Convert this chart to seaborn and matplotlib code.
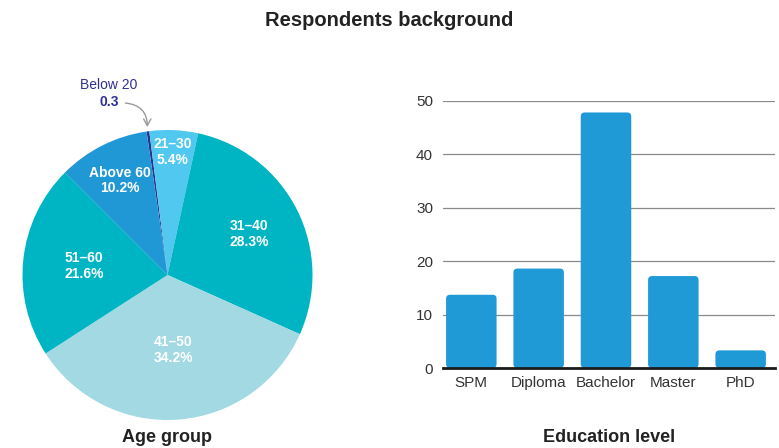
import numpy as np
import pandas as pd
import matplotlib
matplotlib.use("Agg")
import matplotlib.pyplot as plt
import seaborn as sns
from matplotlib.patches import FancyBboxPatch

# ---- data -------------------------------------------------------------
age_groups = ["Below 20", "21–30", "31–40", "41–50", "51–60", "Above 60"]
age_share = [0.3, 5.4, 28.3, 34.2, 21.6, 10.2]

education_levels = ["SPM", "Diploma", "Bachelor", "Master", "PhD"]
education_share = [13.7, 18.6, 47.8, 17.2, 3.3]

y_ticks = [0, 10, 20, 30, 40, 50]

# ---- style ------------------------------------------------------------
sns.set_theme(style="white")
plt.rcParams["font.family"] = ["Liberation Sans", "DejaVu Sans"]

age_colors = ["#2e3192", "#50c8f0", "#00b5c3", "#a2d9e3", "#00b5c3", "#1f98d5"]
bar_color = "#1f9ad6"
text_dark = "#222222"

W, H = 779, 448
fig = plt.figure(figsize=(W / 100, H / 100), dpi=100)

# ---- pie: age group ---------------------------------------------------
cx, cy, r = 167.5, 275, 145
ax1 = fig.add_axes([(cx - r) / W, (H - cy - r) / H, 2 * r / W, 2 * r / H])
wedges, _ = ax1.pie(age_share, colors=age_colors, startangle=98.3,
                    counterclock=False, radius=1,
                    wedgeprops=dict(linewidth=0))
ax1.set_xlim(-1, 1)
ax1.set_ylim(-1, 1)
ax1.set_aspect("equal")
ax1.axis("off")

label_radius = [None, 0.85, 0.63, 0.52, 0.58, 0.73]
for w, name, val, lr in zip(wedges, age_groups, age_share, label_radius):
    if lr is None:
        continue
    ang = np.deg2rad((w.theta1 + w.theta2) / 2)
    ax1.text(lr * np.cos(ang), lr * np.sin(ang), f"{name}\n{val:.1f}%",
             ha="center", va="center", color="white", fontsize=10,
             fontweight="bold", linespacing=1.15)

# callout for the smallest slice
small = wedges[0]
ang = np.deg2rad((small.theta1 + small.theta2) / 2)
tip = (1.03 * np.cos(ang), 1.03 * np.sin(ang))
ax1.annotate("", xy=tip, xytext=(-0.29, 1.186), annotation_clip=False,
             arrowprops=dict(arrowstyle="->,head_length=0.4,head_width=0.22",
                             connectionstyle="arc3,rad=-0.45",
                             color="#9a9a9a", lw=1.0, shrinkA=0, shrinkB=0))
ax1.text(-0.403, 1.31, age_groups[0], ha="center", va="center",
         color="#2e3192", fontsize=10, clip_on=False)
ax1.text(-0.403, 1.19, f"{age_share[0]:.1f}", ha="center", va="center",
         color="#2e3192", fontsize=10, fontweight="bold", clip_on=False)

# ---- bars: education level -------------------------------------------
left_px, right_px = 442.7, 775
top_px, base_px = 100.7, 368
ax2 = fig.add_axes([left_px / W, (H - base_px) / H,
                    (right_px - left_px) / W, (base_px - top_px) / H])
df = pd.DataFrame({"level": education_levels, "share": education_share})
sns.barplot(data=df, x="level", y="share", color=bar_color, saturation=1,
            width=0.75, ax=ax2)
ax2.set_xlim(-0.425, 4.51)
ax2.set_ylim(0, 50)

# round the bar corners
px_per_x = (right_px - left_px) / (4.51 + 0.425)
px_per_y = (base_px - top_px) / 50
aspect = px_per_x / px_per_y
for p in list(ax2.patches):
    x, y = p.get_x(), p.get_y()
    w, h = p.get_width(), p.get_height()
    p.remove()
    ax2.add_patch(FancyBboxPatch((x, y), w, h,
                                 boxstyle=f"round,pad=0,rounding_size={4 / px_per_x}",
                                 mutation_aspect=aspect, facecolor=bar_color,
                                 edgecolor="none", zorder=2))

ax2.set_yticks(y_ticks)
ax2.yaxis.grid(True, color="#8a8a8a", linewidth=0.9)
ax2.set_axisbelow(True)
for s in ["top", "right", "left"]:
    ax2.spines[s].set_visible(False)
ax2.spines["bottom"].set_color("#1a1a1a")
ax2.spines["bottom"].set_linewidth(2.0)
ax2.spines["bottom"].set_zorder(5)
ax2.tick_params(axis="both", length=0, labelsize=11, labelcolor="#333333")
ax2.tick_params(axis="y", pad=7)
ax2.tick_params(axis="x", pad=6)
ax2.set_xlabel("")
ax2.set_ylabel("")

# ---- titles -----------------------------------------------------------
fig.text(389.5 / W, 1 - 20 / H, "Respondents background", ha="center",
         va="center", fontsize=14.5, fontweight="bold", color=text_dark)
fig.text(167 / W, 1 - 437 / H, "Age group", ha="center", va="center",
         fontsize=13, fontweight="bold", color=text_dark)
fig.text(609 / W, 1 - 437 / H, "Education level", ha="center", va="center",
         fontsize=13, fontweight="bold", color=text_dark)

fig.savefig("out.png", dpi=100, facecolor="white")
